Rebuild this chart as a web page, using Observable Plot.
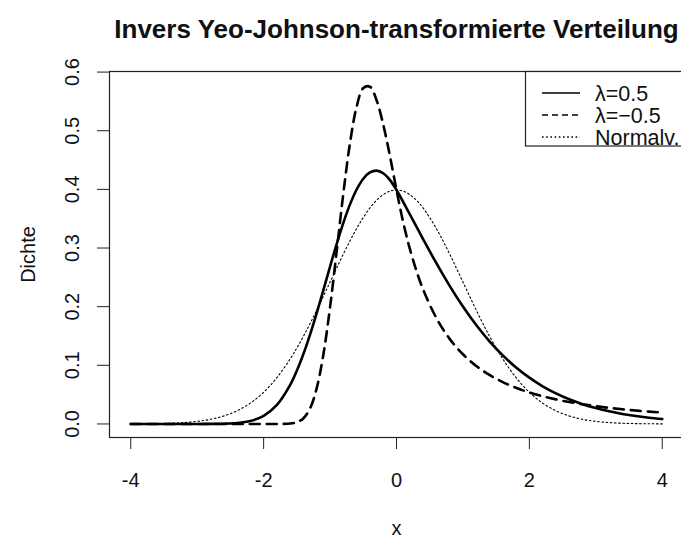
<!DOCTYPE html>
<html><head><meta charset="utf-8">
<script src="https://cdn.jsdelivr.net/npm/d3@7"></script>
<script src="https://cdn.jsdelivr.net/npm/@observablehq/plot@0.6"></script>
<style>
body{margin:0;background:#fff;}
#wrap{position:relative;width:681px;height:539px;overflow:hidden;font-family:"Liberation Sans",Arial,sans-serif;background:#fff;}
</style></head><body><div id="wrap"></div>
<script>
const titleText = "Invers Yeo-Johnson-transformierte Verteilung";
const xLabel = "x";
const yLabel = "Dichte";
const xTicks = [-4, -2, 0, 2, 4];
const yTicks = [0, 0.1, 0.2, 0.3, 0.4, 0.5, 0.6];
const legendLabels = ["λ=0.5", "λ=−0.5", "Normalv."];

const xs = [-4,-3.8,-3.6,-3.4,-3.2,-3,-2.8,-2.6,-2.4,-2.2,-2,-1.8,-1.6,
  -1.5,-1.4,-1.3,-1.2,-1.1,-1,-0.9,-0.8,-0.7,-0.6,-0.5,-0.4,-0.3,-0.2,-0.1,0,0.1,0.2,0.3,0.4,
  0.6,0.8,1,1.2,1.4,1.6,1.8,2,2.2,2.4,2.6,2.8,3,3.2,3.4,3.6,3.8,4];

const densLambda05 = [0,0,0,0,0,0.00002,0.00009,0.0004,0.0015,0.0050,0.0138,0.0326,0.0668,
  0.0909,0.1197,0.1529,0.1896,0.2286,0.2684,0.3071,0.3430,0.3744,0.3998,0.4182,0.4289,0.4320,0.4275,0.4162,0.3989,0.3786,0.3576,0.3364,0.3153,
  0.2741,0.2355,0.2002,0.1686,0.1409,0.1169,0.0963,0.0789,0.0642,0.0521,0.0420,0.0337,0.0270,0.0215,0.0171,0.0135,0.0107,0.0084];

const densLambdaM05 = [0,0,0,0,0,0,0,0,0,0,0,0.00001,0.0007,
  0.0029,0.0098,0.0269,0.0614,0.1188,0.1991,0.2950,0.3932,0.4790,0.5408,0.5727,0.5750,0.5521,0.5106,0.4576,0.3989,0.3443,0.2989,0.2611,0.2296,
  0.1806,0.1451,0.1188,0.0989,0.0835,0.0713,0.0616,0.0537,0.0472,0.0419,0.0373,0.0335,0.0303,0.0274,0.0250,0.0229,0.0210,0.0194];

const densNormal = [0.0001,0.0003,0.0006,0.0012,0.0024,0.0044,0.0079,0.0136,0.0224,0.0355,0.0540,0.0790,0.1109,
  0.1295,0.1497,0.1714,0.1942,0.2179,0.2420,0.2661,0.2897,0.3123,0.3332,0.3521,0.3683,0.3814,0.3910,0.3970,0.3989,0.3970,0.3910,0.3814,0.3683,
  0.3332,0.2897,0.2420,0.1942,0.1497,0.1109,0.0790,0.0540,0.0355,0.0224,0.0136,0.0079,0.0044,0.0024,0.0012,0.0006,0.0003,0.0001];

const seriesDefs = [
  {key: "l05", values: densLambda05, width: 2.6, dash: null, legDash: null},
  {key: "lm05", values: densLambdaM05, width: 2.6, dash: "10,7", legDash: "6,4"},
  {key: "norm", values: densNormal, width: 1.1, dash: "1.6,2.6", legDash: "1.6,2.6"}
];

const font = "Liberation Sans, Arial, sans-serif";
const ink = "#111";

const lineMarks = seriesDefs.map(s => Plot.line(xs.map((x, i) => ({x, y: s.values[i]})), {
  x: "x", y: "y", curve: "catmull-rom", stroke: "#000", strokeWidth: s.width,
  strokeDasharray: s.dash ?? undefined
}));

const chart = Plot.plot({
  width: 681, height: 539,
  marginLeft: 109, marginRight: -2, marginTop: 71, marginBottom: 102,
  style: {fontFamily: font, fontSize: "20px", color: ink, background: "#fff"},
  x: {domain: [-4.32, 4.32]},
  y: {domain: [-0.0231, 0.601]},
  marks: [
    ...lineMarks,
    Plot.frame({stroke: "#222", strokeWidth: 1.2}),
    Plot.axisX(xTicks, {tickSize: 12, tickPadding: 23, fontSize: 20, label: null, stroke: "#222", fill: ink, tickFormat: d => String(d)}),
    Plot.axisY(yTicks, {tickSize: 12, text: null, label: null, stroke: "#222"}),
    Plot.text(yTicks, {y: d => d, text: d => d.toFixed(1), frameAnchor: "left", dx: -37, rotate: -90,
      textAnchor: "middle", lineAnchor: "middle", fontSize: 20, fill: ink}),
    Plot.text([titleText], {frameAnchor: "top", dy: -42, textAnchor: "middle", lineAnchor: "middle", fontSize: 26, fontWeight: "bold", fill: ink}),
    Plot.text([xLabel], {frameAnchor: "bottom", dy: 91, textAnchor: "middle", lineAnchor: "middle", fontSize: 20, fill: ink}),
    Plot.text([yLabel], {frameAnchor: "left", dx: -81, rotate: -90, textAnchor: "middle", lineAnchor: "middle", fontSize: 20, fill: ink})
  ]
});
document.getElementById("wrap").appendChild(chart);

// legend box (top-right, inside plot area)
const leg = d3.select("#wrap").append("svg")
  .attr("width", 681).attr("height", 539)
  .style("position", "absolute").style("left", 0).style("top", 0)
  .style("font-family", font);
leg.append("rect").attr("x", 525.5).attr("y", 71.5).attr("width", 200).attr("height", 74.5)
  .attr("fill", "#fff").attr("stroke", "#222").attr("stroke-width", 1.2);
const rowY = [93, 115, 137];
seriesDefs.forEach((s, i) => {
  leg.append("line").attr("x1", 542).attr("x2", 580).attr("y1", rowY[i]).attr("y2", rowY[i])
    .attr("stroke", "#000").attr("stroke-width", 1.3)
    .attr("stroke-dasharray", s.legDash);
  leg.append("text").attr("x", 595).attr("y", rowY[i]).attr("dy", "0.36em")
    .attr("font-size", 21.5).attr("fill", ink).text(legendLabels[i]);
});
</script></body></html>
